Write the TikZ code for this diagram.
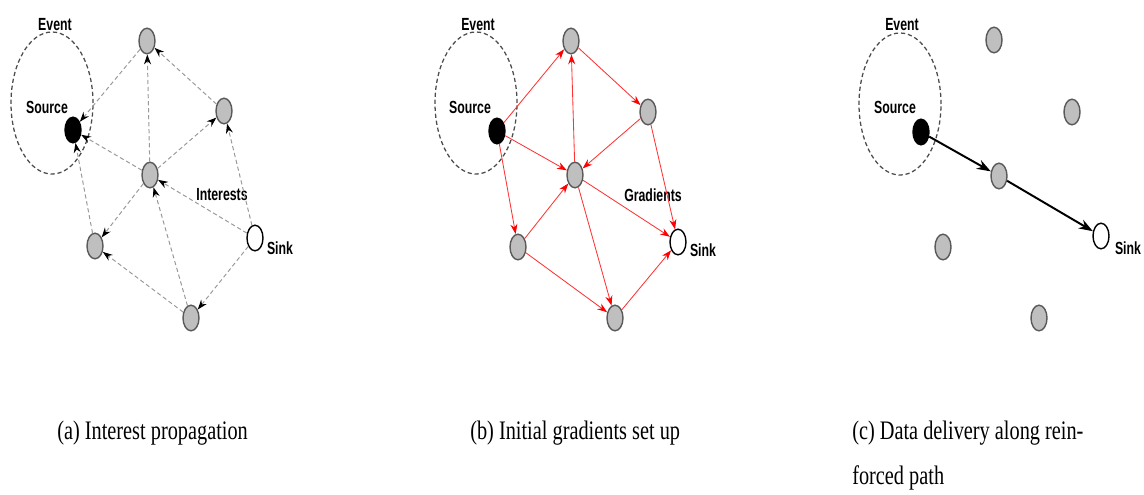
\documentclass[tikz,border=0pt]{standalone}
\usepackage{fontspec}
\setmainfont{Liberation Serif}
\newfontfamily\labelfont{Liberation Sans}
\usetikzlibrary{arrows.meta,shapes.geometric}

\newcommand{\narrow}[1]{\scalebox{0.7}[1]{#1}}
\newcommand{\narrowcap}[1]{\scalebox{0.76}[1]{#1}}

\tikzset{
	sensor/.style		= {ellipse, draw = black!65, line width = 1pt, fill = black!25, minimum width = 0.4cm, minimum height = 0.64cm, inner sep = 0pt},
	sourcenode/.style	= {sensor, draw = black, fill = black},
	sinknode/.style		= {sensor, draw = black, fill = white},
	event/.style		= {ellipse, draw = black!70, line width = 0.9pt, dash pattern = on 3pt off 2pt, minimum width = 2.05cm, minimum height = 3.55cm},
	labeltext/.style	= {font = \labelfont\bfseries\fontsize{12.5}{14}\selectfont, inner sep = 0pt},
	captiontext/.style	= {font = \fontsize{19}{22}\selectfont, inner sep = 0pt, anchor = west},
	interest/.style		= {draw = black!40, line width = 0.7pt, dash pattern = on 3pt off 2pt, -{Stealth[black, length = 7pt, width = 5pt]}},
	gradient/.style		= {draw = red!80, line width = 0.6pt, -{Stealth[red, length = 7pt, width = 5pt]}},
	reinforced/.style	= {draw = black, line width = 1.4pt, -{Stealth[length = 10pt, width = 7pt]}}
}

\begin{document}
\begin{tikzpicture}[x = 0.025cm, y = -0.025cm]
\useasboundingbox (0, 0) rectangle (1144, 494);

\path	(52, 103)	node(event_a)			[event]			{}
		(55, 25)	node(event_label_a)		[labeltext]		{\narrow{Event}}
		(47, 107)	node(source_label_a)	[labeltext]		{\narrow{Source}}
		(73, 130)	node(source_a)			[sourcenode]	{}
		(147, 41)	node(top_a)				[sensor]		{}
		(224, 111)	node(right_a)			[sensor]		{}
		(150, 175)	node(middle_a)			[sensor]		{}
		(95, 246)	node(left_a)			[sensor]		{}
		(191, 318)	node(bottom_a)			[sensor]		{}
		(255, 238)	node(sink_a)			[sinknode]		{}
		(222, 195)	node(interests)			[labeltext]		{\narrow{Interests}}
		(280, 248)	node(sink_label_a)		[labeltext]		{\narrow{Sink}}
		(57, 433)	node(caption_a)			[captiontext]	{\narrowcap{(a) Interest propagation}};

\draw[interest]	(sink_a)	--	(right_a);
\draw[interest]	(sink_a)	--	(middle_a);
\draw[interest]	(sink_a)	--	(bottom_a);
\draw[interest]	(right_a)	--	(top_a);
\draw[interest]	(middle_a)	--	(right_a);
\draw[interest]	(bottom_a)	--	(middle_a);
\draw[interest]	(top_a)		--	(source_a);
\draw[interest]	(middle_a)	--	(source_a);
\draw[interest]	(middle_a)	--	(top_a);
\draw[interest]	(middle_a)	--	(left_a);
\draw[interest]	(left_a)	--	(source_a);
\draw[interest]	(bottom_a)	--	(left_a);

\path	(476, 103)	node(event_b)			[event]			{}
		(478, 25)	node(event_label_b)		[labeltext]		{\narrow{Event}}
		(470, 107)	node(source_label_b)	[labeltext]		{\narrow{Source}}
		(497, 131)	node(source_b)			[sourcenode]	{}
		(571, 41)	node(top_b)				[sensor]		{}
		(648, 112)	node(right_b)			[sensor]		{}
		(575, 175)	node(middle_b)			[sensor]		{}
		(518, 247)	node(left_b)			[sensor]		{}
		(615, 318)	node(bottom_b)			[sensor]		{}
		(678, 242)	node(sink_b)			[sinknode]		{}
		(653, 195)	node(gradients)			[labeltext]		{\narrow{Gradients}}
		(703, 250)	node(sink_label_b)		[labeltext]		{\narrow{Sink}}
		(470, 433)	node(caption_b)			[captiontext]	{\narrowcap{(b) Initial gradients set up}};

\draw[gradient]	(source_b)	--	(top_b);
\draw[gradient]	(source_b)	--	(middle_b);
\draw[gradient]	(source_b)	--	(left_b);
\draw[gradient]	(top_b)		--	(right_b);
\draw[gradient]	(middle_b)	--	(top_b);
\draw[gradient]	(right_b)	--	(middle_b);
\draw[gradient]	(right_b)	--	(sink_b);
\draw[gradient]	(middle_b)	--	(sink_b);
\draw[gradient]	(middle_b)	--	(bottom_b);
\draw[gradient]	(left_b)	--	(middle_b);
\draw[gradient]	(left_b)	--	(bottom_b);
\draw[gradient]	(bottom_b)	--	(sink_b);

\path	(900, 104)	node(event_c)			[event]			{}
		(902, 25)	node(event_label_c)		[labeltext]		{\narrow{Event}}
		(895, 107)	node(source_label_c)	[labeltext]		{\narrow{Source}}
		(921, 132)	node(source_c)			[sourcenode]	{}
		(994, 40)	node(top_c)				[sensor]		{}
		(1072, 112)	node(right_c)			[sensor]		{}
		(999, 176)	node(middle_c)			[sensor]		{}
		(943, 247)	node(left_c)			[sensor]		{}
		(1039, 318)	node(bottom_c)			[sensor]		{}
		(1101, 236)	node(sink_c)			[sinknode]		{}
		(1128, 248)	node(sink_label_c)		[labeltext]		{\narrow{Sink}}
		(852, 433)	node(caption_c)			[captiontext]	{\narrowcap{(c) Data delivery along rein-}}
		(852, 478)	node(caption_c2)		[captiontext]	{\narrowcap{forced path}};

\draw[reinforced]	(source_c)	--	(middle_c);
\draw[reinforced]	(middle_c)	--	(sink_c);
\end{tikzpicture}
\end{document}
